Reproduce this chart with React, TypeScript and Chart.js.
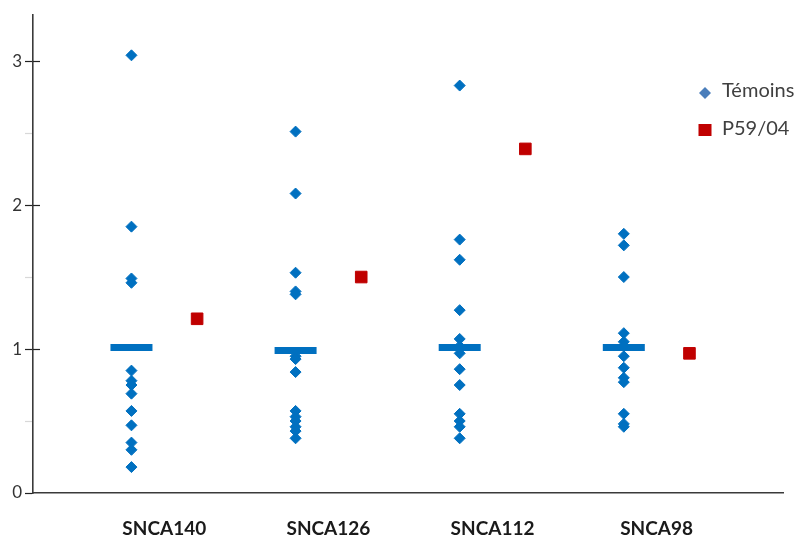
import React, { useEffect, useRef } from "react";
import { Chart, registerables } from "chart.js";

Chart.register(...registerables);

const categories = ["SNCA140", "SNCA126", "SNCA112", "SNCA98"];
const temoinsSNCA140 = [3.04, 1.85, 1.49, 1.46, 0.85, 0.78, 0.75, 0.69, 0.57, 0.47, 0.35, 0.3, 0.18];
const temoinsSNCA126 = [2.51, 2.08, 1.53, 1.4, 1.38, 0.95, 0.93, 0.84, 0.57, 0.53, 0.5, 0.46, 0.43, 0.38];
const temoinsSNCA112 = [2.83, 1.76, 1.62, 1.27, 1.07, 1.02, 0.97, 0.86, 0.75, 0.55, 0.5, 0.46, 0.38];
const temoinsSNCA98 = [1.8, 1.72, 1.5, 1.11, 1.05, 1.02, 0.95, 0.87, 0.8, 0.77, 0.55, 0.48, 0.46];
const temoins = [temoinsSNCA140, temoinsSNCA126, temoinsSNCA112, temoinsSNCA98];
const patient = [1.21, 1.5, 2.39, 0.97];
const medians = [1.01, 0.99, 1.01, 1.01];
const yTickValues = [0, 0.5, 1, 1.5, 2, 2.5, 3];
const seriesLabels = ["Témoins", "P59/04"];

const BLUE = "#0070C0";
const RED = "#C00000";
const OFFSET = 0.2;

const legendPlugin = {
  id: "customLegend",
  afterDraw(chart: any) {
    const ctx = chart.ctx;
    const area = chart.chartArea;
    const x0 = area.right - 78;
    ctx.save();
    // diamond
    ctx.fillStyle = "#4A7EBB";
    ctx.beginPath();
    ctx.moveTo(x0 - 6, 93);
    ctx.lineTo(x0, 87);
    ctx.lineTo(x0 + 6, 93);
    ctx.lineTo(x0, 99);
    ctx.closePath();
    ctx.fill();
    ctx.fillStyle = RED;
    ctx.fillRect(x0 - 6.5, 124, 13, 12);
    ctx.fillStyle = "#404040";
    ctx.font = "20px Lato";
    ctx.textBaseline = "middle";
    ctx.textAlign = "left";
    ctx.fillText(seriesLabels[0], x0 + 17, 91);
    ctx.fillText(seriesLabels[1], x0 + 17, 129);
    // inner part of major y ticks
    const y = chart.scales.y;
    ctx.strokeStyle = "#222";
    ctx.lineWidth = 1.2;
    y.ticks.forEach((t: any) => {
      if (t.value % 1 === 0 && t.value !== 0) {
        const py = Math.round(y.getPixelForValue(t.value)) + 0.5;
        ctx.beginPath();
        ctx.moveTo(area.left, py);
        ctx.lineTo(area.left + 7, py);
        ctx.stroke();
      }
    });
    ctx.restore();
  },
};

export default function App() {
  const ref = useRef<HTMLCanvasElement>(null);
  useEffect(() => {
    if (!ref.current) return;
    const temoinsData: any[] = [];
    temoins.forEach((arr, i) => arr.forEach((v) => temoinsData.push({ x: i + 1 - OFFSET, y: v })));
    const patientData = patient.map((v, i) => ({ x: i + 1 + OFFSET, y: v }));
    const medianData = medians.map((v, i) => ({ x: i + 1 - OFFSET, y: v }));
    const chart = new Chart(ref.current, {
      type: "scatter",
      data: {
        datasets: [
          {
            label: "Médiane",
            data: medianData,
            pointStyle: "line",
            pointRadius: 21,
            borderColor: BLUE,
            backgroundColor: BLUE,
            pointBorderWidth: 7,
          },
          {
            label: seriesLabels[0],
            data: temoinsData,
            pointStyle: "rectRot",
            pointRadius: 5.5,
            backgroundColor: BLUE,
            borderColor: BLUE,
            pointBorderWidth: 1,
          },
          {
            label: seriesLabels[1],
            data: patientData,
            pointStyle: "rect",
            pointRadius: 8.2,
            backgroundColor: RED,
            borderColor: RED,
            pointBorderWidth: 1,
          },
        ],
      },
      options: {
        responsive: false,
        animation: false,
        events: [],
        layout: { autoPadding: false, padding: { top: 15, right: 17, left: 0, bottom: 0 } },
        plugins: { legend: { display: false }, tooltip: { enabled: false } },
        scales: {
          x: {
            type: "linear",
            min: 0.2,
            max: 4.77,
            afterBuildTicks: (s: any) => {
              s.ticks = categories.map((_, i) => ({ value: i + 1 }));
            },
            afterFit: (s: any) => {
              s.height = 45;
              s.paddingLeft = 0;
              s.paddingRight = 0;
            },
            ticks: {
              callback: (v: any) => categories[Math.round(v) - 1] ?? "",
              font: { family: "Lato", size: 19, weight: "bold" },
              color: "#1a1a1a",
              padding: 24,
              maxRotation: 0,
              autoSkip: false,
            },
            grid: { display: true, drawOnChartArea: false, drawTicks: false },
            border: { display: true, color: "#3a3a3a", width: 1.6 },
          },
          y: {
            type: "linear",
            min: 0,
            max: 3.32,
            afterBuildTicks: (s: any) => {
              s.ticks = yTickValues.map((v) => ({ value: v }));
            },
            afterFit: (s: any) => {
              s.width = 33;
              s.paddingTop = 0;
              s.paddingBottom = 0;
            },
            ticks: {
              callback: (v: any) => (v % 1 === 0 ? String(v) : ""),
              font: { family: "Lato", size: 17 },
              color: "#333",
              padding: 3,
            },
            grid: {
              display: true,
              drawOnChartArea: false,
              drawTicks: true,
              tickLength: 8,
              tickColor: (c: any) => (c.tick && c.tick.value % 1 === 0 ? "#222" : "#d8d8d8"),
              tickWidth: 1.2,
            },
            border: { display: true, color: "#3a3a3a", width: 1.6 },
          },
        },
      },
      plugins: [legendPlugin],
    });
    return () => chart.destroy();
  }, []);
  return (
    <div style={{ position: "absolute", left: 0, top: 0, width: 800, height: 538, background: "#fff" }}>
      <canvas ref={ref} width={800} height={538} style={{ display: "block" }} />
    </div>
  );
}
